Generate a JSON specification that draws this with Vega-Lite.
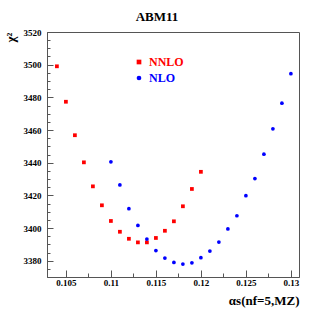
{
  "$schema": "https://vega.github.io/schema/vega-lite/v6.json",
  "width": 252,
  "height": 245,
  "autosize": {"type": "none"},
  "padding": {"left": 47, "top": 32, "right": 16, "bottom": 38},
  "background": "white",
  "title": {"text": "ABM11", "font": "Liberation Serif", "fontSize": 13, "fontWeight": "bold", "color": "black", "anchor": "middle", "dx": -16, "offset": 4},
  "data": {"values": [
    {"series": "NNLO", "alphas": 0.104, "chi2": 3499.0},
    {"series": "NNLO", "alphas": 0.105, "chi2": 3477.3},
    {"series": "NNLO", "alphas": 0.106, "chi2": 3456.8},
    {"series": "NNLO", "alphas": 0.107, "chi2": 3440.2},
    {"series": "NNLO", "alphas": 0.108, "chi2": 3425.5},
    {"series": "NNLO", "alphas": 0.109, "chi2": 3413.9},
    {"series": "NNLO", "alphas": 0.110, "chi2": 3404.3},
    {"series": "NNLO", "alphas": 0.111, "chi2": 3397.7},
    {"series": "NNLO", "alphas": 0.112, "chi2": 3393.4},
    {"series": "NNLO", "alphas": 0.113, "chi2": 3391.2},
    {"series": "NNLO", "alphas": 0.114, "chi2": 3391.2},
    {"series": "NNLO", "alphas": 0.115, "chi2": 3393.9},
    {"series": "NNLO", "alphas": 0.116, "chi2": 3398.3},
    {"series": "NNLO", "alphas": 0.117, "chi2": 3404.1},
    {"series": "NNLO", "alphas": 0.118, "chi2": 3413.3},
    {"series": "NNLO", "alphas": 0.119, "chi2": 3423.9},
    {"series": "NNLO", "alphas": 0.120, "chi2": 3434.4},
    {"series": "NLO", "alphas": 0.110, "chi2": 3440.5},
    {"series": "NLO", "alphas": 0.111, "chi2": 3426.4},
    {"series": "NLO", "alphas": 0.112, "chi2": 3411.8},
    {"series": "NLO", "alphas": 0.113, "chi2": 3401.6},
    {"series": "NLO", "alphas": 0.114, "chi2": 3393.2},
    {"series": "NLO", "alphas": 0.115, "chi2": 3386.2},
    {"series": "NLO", "alphas": 0.116, "chi2": 3381.6},
    {"series": "NLO", "alphas": 0.117, "chi2": 3378.9},
    {"series": "NLO", "alphas": 0.118, "chi2": 3377.9},
    {"series": "NLO", "alphas": 0.119, "chi2": 3378.7},
    {"series": "NLO", "alphas": 0.120, "chi2": 3381.8},
    {"series": "NLO", "alphas": 0.121, "chi2": 3385.9},
    {"series": "NLO", "alphas": 0.122, "chi2": 3391.4},
    {"series": "NLO", "alphas": 0.123, "chi2": 3399.4},
    {"series": "NLO", "alphas": 0.124, "chi2": 3407.5},
    {"series": "NLO", "alphas": 0.125, "chi2": 3419.8},
    {"series": "NLO", "alphas": 0.126, "chi2": 3430.3},
    {"series": "NLO", "alphas": 0.127, "chi2": 3445.2},
    {"series": "NLO", "alphas": 0.128, "chi2": 3460.7},
    {"series": "NLO", "alphas": 0.129, "chi2": 3476.4},
    {"series": "NLO", "alphas": 0.130, "chi2": 3494.5}
  ]},
  "mark": {"type": "point", "filled": true, "opacity": 1, "size": 14},
  "encoding": {
    "x": {
      "field": "alphas", "type": "quantitative",
      "scale": {"domain": [0.1029, 0.1309], "zero": false, "nice": false},
      "axis": {
        "title": "αs(nf=5,MZ)",
        "titleFont": "Liberation Serif", "titleFontSize": 13, "titleFontWeight": "bold", "titleColor": "black",
        "titleAnchor": "end", "titlePadding": 4,
        "values": [0.105, 0.1075, 0.11, 0.1125, 0.115, 0.1175, 0.12, 0.1225, 0.125, 0.1275, 0.13],
        "labelExpr": "abs(round(datum.value*10000) % 50) < 1 ? format(datum.value, '~g') : ''",
        "labelFont": "Liberation Serif", "labelFontSize": 9, "labelFontWeight": "bold", "labelColor": "black",
        "tickSize": {"condition": {"test": "abs(round(datum.value*10000) % 50) < 1", "value": -7}, "value": -4},
        "tickColor": "#555", "domainColor": "#555", "grid": false, "labelPadding": 8, "labelFlush": false, "labelOverlap": false
      }
    },
    "y": {
      "field": "chi2", "type": "quantitative",
      "scale": {"domain": [3370, 3520], "zero": false, "nice": false},
      "axis": {
        "title": "χ²",
        "titleFont": "Liberation Serif", "titleFontSize": 13, "titleFontWeight": "bold", "titleColor": "black",
        "titleAnchor": "end", "titlePadding": 6,
        "values": [3375, 3380, 3385, 3390, 3395, 3400, 3405, 3410, 3415, 3420, 3425, 3430, 3435, 3440, 3445, 3450, 3455, 3460, 3465, 3470, 3475, 3480, 3485, 3490, 3495, 3500, 3505, 3510, 3515, 3520],
        "labelExpr": "datum.value % 20 == 0 ? format(datum.value, 'd') : ''",
        "labelFont": "Liberation Serif", "labelFontSize": 9, "labelFontWeight": "bold", "labelColor": "black",
        "tickSize": {"condition": {"test": "datum.value % 20 == 0", "value": -6}, "value": -3},
        "tickColor": "#555", "domainColor": "#555", "grid": false, "labelPadding": 12, "labelFlush": false, "labelOverlap": false
      }
    },
    "color": {
      "field": "series", "type": "nominal",
      "scale": {"domain": ["NNLO", "NLO"], "range": ["#ff0000", "#0000ff"]},
      "legend": {
        "title": null, "orient": "none", "legendX": 86, "legendY": 24,
        "labelFont": "Liberation Serif", "labelFontSize": 12, "labelFontWeight": "bold",
        "labelColor": {"expr": "datum.label == 'NNLO' ? '#ff0000' : '#0000ff'"},
        "rowPadding": 4, "symbolSize": 22, "padding": 0
      }
    },
    "shape": {
      "field": "series", "type": "nominal",
      "scale": {"domain": ["NNLO", "NLO"], "range": ["square", "circle"]}
    }
  },
  "config": {
    "view": {"stroke": "#555", "strokeWidth": 1},
    "font": "Liberation Serif"
  }
}
